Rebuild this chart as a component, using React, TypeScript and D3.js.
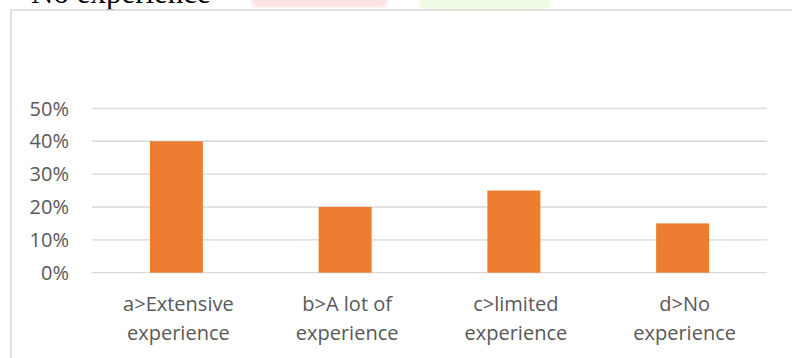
import React from "react";
import * as d3 from "d3";

const categories: string[][] = [
  ["a>Extensive", "experience"],
  ["b>A lot of", "experience"],
  ["c>limited", "experience"],
  ["d>No", "experience"],
];
const values: number[] = [0.4, 0.2, 0.25, 0.15];
const yTicks: number[] = [0, 0.1, 0.2, 0.3, 0.4, 0.5];

const W = 792;
const H = 358;
const plotLeft = 92;
const plotRight = 767;
const y0 = 272.7;
const y50 = 108.4;
const FONT = "'Open Sans', sans-serif";

export default function App() {
  const x = d3
    .scaleBand<number>()
    .domain(values.map((_, i) => i))
    .range([plotLeft, plotRight])
    .padding(0);
  const y = d3.scaleLinear().domain([0, 0.5]).range([y0, y50]);
  const barW = x.bandwidth() * 0.314;
  const fmt = d3.format(".0%");

  return (
    <svg
      width={W}
      height={H}
      style={{ position: "absolute", left: 0, top: 0, background: "#fff" }}
    >
      <defs>
        <filter id="blur" x="-10%" y="-50%" width="120%" height="200%">
          <feGaussianBlur stdDeviation="1.5" />
        </filter>
      </defs>
      {/* residue of page above the chart */}
      <rect x={252} y={-6} width={135} height={13} rx={5} fill="#ffe1e1" filter="url(#blur)" />
      <rect x={419} y={-6} width={131} height={15} rx={5} fill="#eefae2" filter="url(#blur)" />
      <text x={31} y={3} fontFamily="'Liberation Serif', 'Times New Roman', serif" fontSize={31} fill="#000">
        No experience
      </text>
      {/* chart frame */}
      <rect x={11} y={10} width={W} height={H} fill="#fff" stroke="#d9d9d9" strokeWidth={1.5} />
      {/* gridlines */}
      {yTicks.map((t) => (
        <line
          key={"g" + t}
          x1={plotLeft}
          x2={plotRight}
          y1={y(t)}
          y2={y(t)}
          stroke="#d9d9d9"
          strokeWidth={1.3}
        />
      ))}
      {/* y labels */}
      {yTicks.map((t) => (
        <text
          key={"l" + t}
          x={69}
          y={y(t)}
          dy="0.36em"
          textAnchor="end"
          fontFamily={FONT}
          fontSize={20}
          fill="#595959"
        >
          {fmt(t)}
        </text>
      ))}
      {/* bars */}
      {values.map((v, i) => {
        const cx = (x(i) as number) + x.bandwidth() / 2;
        return (
          <rect
            key={"b" + i}
            x={cx - barW / 2}
            y={y(v)}
            width={barW}
            height={y(0) - y(v)}
            fill="#ed7d31"
          />
        );
      })}
      {/* x labels */}
      {categories.map((lines, i) => {
        const cx = (x(i) as number) + x.bandwidth() / 2;
        return (
          <text
            key={"c" + i}
            textAnchor="middle"
            fontFamily={FONT}
            fontSize={20}
            fill="#595959"
          >
            {lines.map((ln, j) => (
              <tspan key={j} x={cx + 2} y={311 + j * 29}>
                {ln}
              </tspan>
            ))}
          </text>
        );
      })}
    </svg>
  );
}
